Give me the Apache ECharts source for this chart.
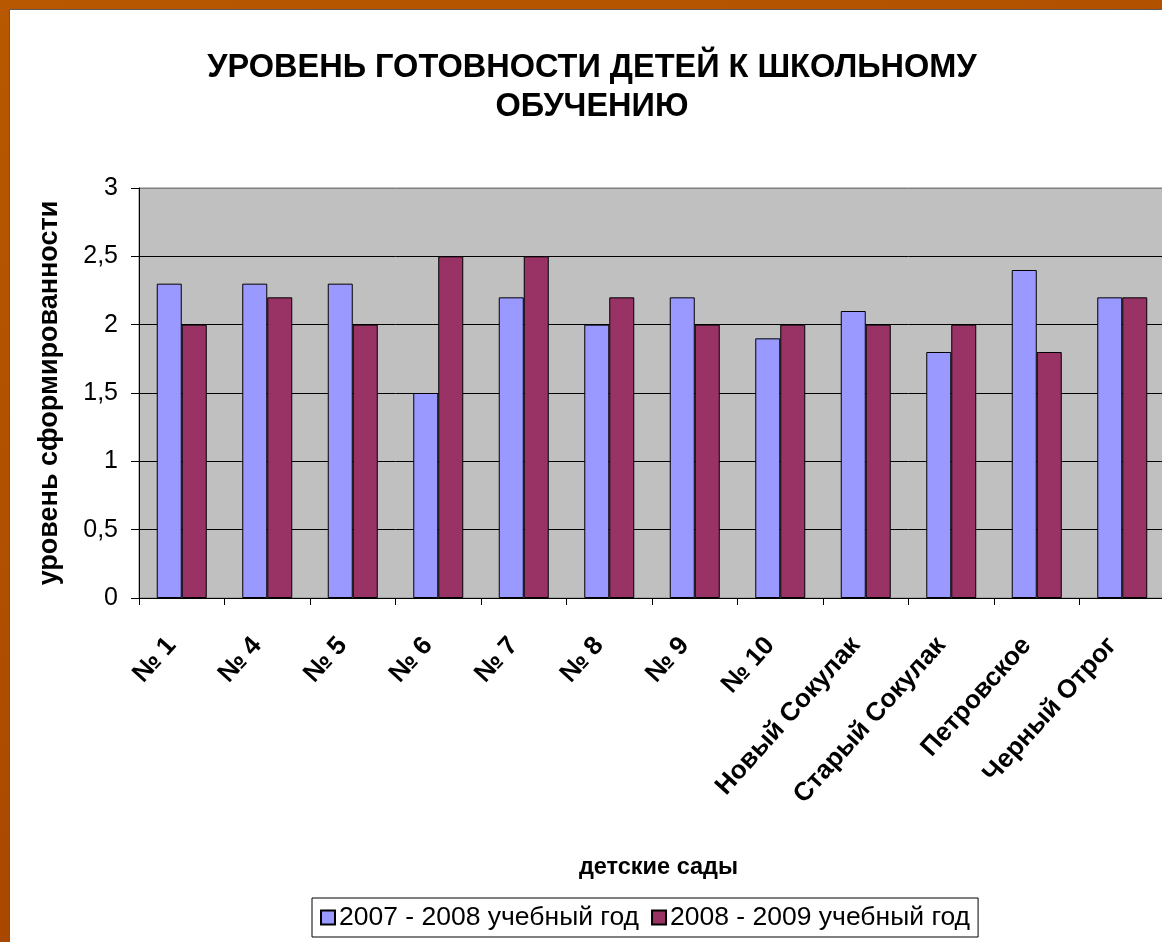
<!DOCTYPE html>
<html>
<head>
<meta charset="utf-8">
<script src="https://cdn.jsdelivr.net/npm/echarts@6/dist/echarts.min.js"></script>
<style>
  html, body { margin: 0; padding: 0; width: 1162px; height: 942px; overflow: hidden; }
  body { background: linear-gradient(160deg, #b85800 0%, #b05000 40%, #a04000 100%); position: relative; }
  #chart {
    position: absolute; left: 9px; top: 9px;
    width: 1160px; height: 933px;
    background: #ffffff;
    border-left: 1px solid #5a5a5a; border-top: 1px solid #5a5a5a;
  }
</style>
</head>
<body>
<div id="chart"></div>
<script>
// Kindergartens compared over two school years
const categories = ['№ 1', '№ 4', '№ 5', '№ 6', '№ 7', '№ 8', '№ 9', '№ 10',
  'Новый Сокулак', 'Старый Сокулак', 'Петровское', 'Черный Отрог'];
const year2007 = [2.3, 2.3, 2.3, 1.5, 2.2, 2.0, 2.2, 1.9, 2.1, 1.8, 2.4, 2.2];
const year2008 = [2.0, 2.2, 2.0, 2.5, 2.5, 2.2, 2.0, 2.0, 2.0, 2.0, 1.8, 2.2];
const seriesNames = ['2007 - 2008 учебный год', '2008 - 2009 учебный год'];
const yTicks = { min: 0, max: 3, interval: 0.5 };

const chart = echarts.init(document.getElementById('chart'), null, { renderer: 'canvas' });

const fontMain = 'Liberation Sans, Arial, sans-serif';

chart.setOption({
  animation: false,
  title: {
    text: 'УРОВЕНЬ ГОТОВНОСТИ ДЕТЕЙ К ШКОЛЬНОМУ\nОБУЧЕНИЮ',
    left: 577, top: 34, textAlign: 'center',
    textStyle: {
      fontFamily: 'Liberation Sans Narrow, Liberation Sans, Arial, sans-serif',
      fontWeight: 'bold', fontSize: 32.5, lineHeight: 39, color: '#000'
    }
  },
  legend: {
    left: 302, top: 888,
    orient: 'horizontal',
    itemWidth: 14, itemHeight: 14, itemGap: 12,
    icon: 'rect',
    padding: [6, 8, 6, 8],
    borderColor: '#000', borderWidth: 1,
    textStyle: { fontFamily: fontMain, fontSize: 26.5, color: '#000', padding: [0, 0, 0, -1] },
    data: seriesNames
  },
  grid: {
    left: 129, top: 178, right: 5, bottom: 345,
    show: true, backgroundColor: '#c0c0c0', borderColor: '#808080', borderWidth: 1
  },
  xAxis: {
    type: 'category',
    data: categories,
    name: 'детские сады',
    nameLocation: 'middle',
    nameGap: 258,
    nameTextStyle: { fontFamily: fontMain, fontWeight: 'bold', fontSize: 23.5, color: '#000', padding: [0, 0, 0, 13] },
    axisLine: { lineStyle: { color: '#000', width: 1 } },
    axisTick: { show: true, length: 7, lineStyle: { color: '#000' } },
    axisLabel: {
      rotate: 48, margin: 32, interval: 0, padding: [0, 15, 0, 0],
      fontFamily: fontMain, fontWeight: 'bold', fontSize: 26, color: '#000'
    }
  },
  yAxis: {
    type: 'value',
    min: yTicks.min, max: yTicks.max, interval: yTicks.interval,
    name: 'уровень сформированности',
    nameLocation: 'middle',
    nameGap: 76,
    nameTextStyle: { fontFamily: fontMain, fontWeight: 'bold', fontSize: 27, color: '#000' },
    axisLine: { show: true, lineStyle: { color: '#000', width: 1 } },
    axisTick: { show: true, length: 8, lineStyle: { color: '#000' } },
    axisLabel: {
      margin: 21,
      fontFamily: fontMain, fontSize: 25, color: '#000',
      formatter: v => String(v).replace('.', ',')
    },
    splitLine: {
      show: true,
      lineStyle: { color: ['#000', '#000', '#000', '#000', '#000', '#000', '#808080'], width: 1 }
    }
  },
  series: [
    {
      name: seriesNames[0], type: 'bar', data: year2007,
      barWidth: 25, barGap: '0%',
      itemStyle: { color: '#9999ff', borderColor: '#000', borderWidth: 1 }
    },
    {
      name: seriesNames[1], type: 'bar', data: year2008,
      barWidth: 25, barGap: '0%',
      itemStyle: { color: '#993366', borderColor: '#000', borderWidth: 1 }
    }
  ]
});
</script>
</body>
</html>
